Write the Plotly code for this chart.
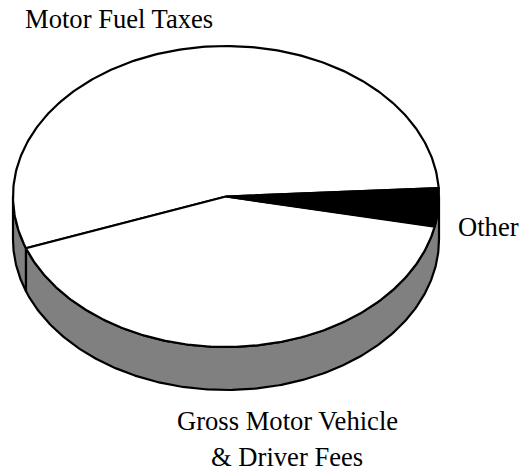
import numpy as np
import plotly.graph_objects as go

# Data: share of revenue (percent)
categories = ["Motor Fuel Taxes", "Gross Motor Vehicle<br>& Driver Fees", "Other"]
values = [54.7, 41.2, 4.1]
start_angle = 3.2  # degrees, counter-clockwise from 3 o'clock
top_fills = ["white", "white", "black"]

W, H = 521, 470
CX, CY, RX = 226, 196.5, 213
TILT = 150.5 / 213
DEPTH = 43 / 213
LINE = 2.2
WALL = "#808080"


def arc(a0, a1, n=240, drop=0.0):
    t = np.radians(np.linspace(a0, a1, n))
    return np.cos(t), TILT * np.sin(t) - drop


fig = go.Figure()


def poly(x, y, fill):
    fig.add_trace(go.Scatter(x=list(x), y=list(y), mode="lines", fill="toself",
                             fillcolor=fill, line=dict(color="black", width=LINE),
                             hoverinfo="skip", showlegend=False))


spans = []
a = start_angle
for v in values:
    spans.append((a, a + v * 3.6))
    a += v * 3.6

# side wall: front half, split where Motor Fuel meets Gross
breaks = [180, spans[1][0], 360]
for s0, s1 in zip(breaks[:-1], breaks[1:]):
    xt, yt = arc(s0, s1)
    xb, yb = arc(s1, s0, drop=DEPTH)
    poly(np.r_[xt, xb, xt[0]], np.r_[yt, yb, yt[0]], WALL)

# top face
for (a0, a1), col in zip(spans, top_fills):
    x, y = arc(a0, a1)
    poly(np.r_[0, x, 0], np.r_[0, y, 0], col)

# label positions in pixels: one y per text line
label_x = [119, 287, 488]
label_y = [[19], [421, 457], [227]]
for lx, lys, cat in zip(label_x, label_y, categories):
    for ly, txt in zip(lys, cat.split("<br>")):
        fig.add_annotation(x=lx / W, y=1 - ly / H, xref="paper", yref="paper", text=txt, showarrow=False,
                           xanchor="center", yanchor="middle", align="center",
                           font=dict(family="Liberation Serif", size=26.6, color="black"))

fig.update_layout(
    width=W, height=H, autosize=False, margin=dict(l=0, r=0, t=0, b=0),
    paper_bgcolor="white", plot_bgcolor="white", showlegend=False,
    xaxis=dict(range=[-CX / RX, (W - CX) / RX], visible=False, fixedrange=True),
    yaxis=dict(range=[-(H - CY) / RX, CY / RX], visible=False, fixedrange=True),
)
fig.write_html("out.html", config={"displayModeBar": False, "responsive": False},
               post_script="document.body.style.margin='0';document.documentElement.style.overflow='hidden';")
